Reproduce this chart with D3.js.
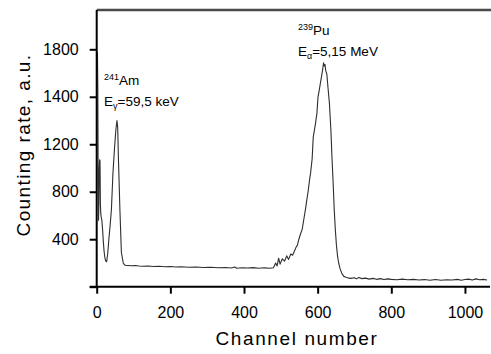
<!DOCTYPE html>
<html>
<head>
<meta charset="utf-8">
<script src="https://cdn.jsdelivr.net/npm/d3@7"></script>
<style>
  html, body { margin: 0; padding: 0; background: #fff; }
  svg { display: block; font-family: "Liberation Sans", Arial, sans-serif; }
</style>
</head>
<body>
<svg id="chart" width="491" height="354"></svg>
<script>
// spectrum: channel number vs counting rate
const channels = [
  2, 3, 4, 5, 6, 7, 8, 9, 10, 11, 12, 14, 16, 18, 20, 22, 24, 27, 30, 33, 36, 40, 44, 48, 52, 55, 57, 59, 63, 67, 72, 76, 80,
  85, 95, 105, 115, 125, 140, 155, 170, 185, 200, 215, 230, 250, 270, 290, 310, 330, 350, 365, 375, 380, 395, 410, 425, 440, 455, 470, 480,
  486, 490, 494, 498, 504, 510, 516, 521, 527, 532, 537, 541, 545, 549, 553, 558, 562, 567, 571, 574, 578, 581, 585, 588, 594, 598, 601, 604, 607, 611, 614, 616, 618, 620, 622, 625, 628, 632, 636, 639, 642, 645, 648, 651, 654, 657, 661, 666, 671, 677, 685,
  690, 700, 705, 712, 720, 730, 740, 750, 760, 770, 780, 790, 800, 815, 830, 845, 860, 875, 890, 905, 920, 935, 950, 965, 980, 990, 1000, 1010, 1020, 1030, 1040, 1050, 1060
];
const counts = [
  1780, 1500, 900, 560, 700, 1000, 1070, 1060, 700, 620, 590, 560, 480, 380, 300, 250, 220, 210, 280, 400, 500, 650, 950, 1150, 1260, 1300, 1270, 1080, 650, 290, 200, 182, 178,
  178, 176, 179, 175, 172, 174, 170, 172, 168, 170, 166, 168, 164, 166, 162, 164, 160, 162, 158, 166, 156, 160, 157, 161, 155, 159, 156, 160,
  200, 175, 240, 190, 235, 215, 260, 230, 275, 265, 300, 330, 350, 400, 440, 483, 560, 653, 740, 800, 900, 963, 1076, 1230, 1286, 1330, 1400, 1450, 1507, 1580, 1640, 1686, 1660, 1672, 1620, 1590, 1480, 1371, 1258, 1080, 880, 650, 480, 350, 260, 200, 150, 110, 87, 80, 72,
  70, 76, 66, 78, 68, 72, 64, 70, 62, 68, 60, 66, 62, 58, 64, 58, 62, 56, 60, 55, 60, 54, 58, 56, 62, 55, 60, 64, 56, 66, 58, 62, 56
];

const xTicks = [0, 200, 400, 600, 800, 1000];
const yTicks = [0, 400, 800, 1200, 1400, 1800];
const xLabel = 'Channel number';
const yLabel = 'Counting rate, a.u.';

const svg = d3.select('#chart');
const plot = { left: 96.7, right: 490, top: 10, bottom: 286.7 };
const yStep = 47.48;

const x = d3.scaleLinear().domain([0, 1068]).range([plot.left, plot.right]);
// tick labels on the original axis are evenly spaced, so the scale is piecewise
const y = d3.scaleLinear()
  .domain(yTicks)
  .range(yTicks.map((d, i) => plot.bottom - i * yStep));

// top frame line
svg.append('line')
  .attr('x1', plot.left).attr('x2', 491)
  .attr('y1', plot.top).attr('y2', plot.top)
  .attr('stroke', '#4a4a4a')
  .attr('stroke-width', 2.5);

// spectrum line
const line = d3.line()
  .x((d, i) => x(channels[i]))
  .y(d => y(d));

svg.append('path')
  .datum(counts)
  .attr('fill', 'none')
  .attr('stroke', '#2e2e2e')
  .attr('stroke-width', 1.1)
  .attr('stroke-linejoin', 'round')
  .attr('d', line);

// axes
const xAxis = svg.append('g')
  .attr('transform', `translate(0,${plot.bottom})`)
  .call(d3.axisBottom(x).tickValues(xTicks).tickSize(7).tickPadding(13).tickSizeOuter(0)
    .tickFormat(d => String(d)));

const yAxis = svg.append('g')
  .attr('transform', `translate(${plot.left},0)`)
  .call(d3.axisLeft(y).tickValues(yTicks).tickSize(7).tickPadding(11).tickSizeOuter(0)
    .tickFormat(d => d === 0 ? '' : String(d)));

[xAxis, yAxis].forEach(g => {
  g.select('.domain').attr('stroke', '#000').attr('stroke-width', 2);
  g.selectAll('.tick line').attr('stroke', '#000').attr('stroke-width', 2);
  g.selectAll('.tick text')
    .attr('fill', '#000')
    .style('font-size', '16px')
    .style('font-family', '"Liberation Sans", Arial, sans-serif');
});
xAxis.select('.domain').attr('d', `M${plot.left - 7},0H${plot.right}`);
yAxis.select('.domain').attr('d', `M0,${plot.bottom}V${plot.top}`);

// axis titles
svg.append('text')
  .attr('x', 297).attr('y', 345)
  .attr('text-anchor', 'middle')
  .style('font-size', '19px')
  .style('letter-spacing', '1.6px')
  .text(xLabel);

svg.append('text')
  .attr('transform', 'translate(30,145) rotate(-90)')
  .attr('text-anchor', 'middle')
  .style('font-size', '19px')
  .style('letter-spacing', '1.4px')
  .text(yLabel);

// peak annotations
const am = svg.append('text').attr('x', 104).attr('y', 85).style('font-size', '13.5px');
am.append('tspan').attr('dy', -5).style('font-size', '9px').text('241');
am.append('tspan').attr('dy', 5).text('Am');

const eg = svg.append('text').attr('x', 104).attr('y', 106).style('font-size', '13.5px');
eg.append('tspan').text('E');
eg.append('tspan').attr('dy', 3).style('font-size', '9px').text('γ');
eg.append('tspan').attr('dy', -3).text('=59,5 keV');

const pu = svg.append('text').attr('x', 298).attr('y', 35).style('font-size', '13.5px');
pu.append('tspan').attr('dy', -5).style('font-size', '9px').text('239');
pu.append('tspan').attr('dy', 5).text('Pu');

const ea = svg.append('text').attr('x', 298).attr('y', 56).style('font-size', '13.5px');
ea.append('tspan').text('E');
ea.append('tspan').attr('dy', 3).style('font-size', '9px').text('α');
ea.append('tspan').attr('dy', -3).text('=5,15 MeV');
</script>
</body>
</html>
